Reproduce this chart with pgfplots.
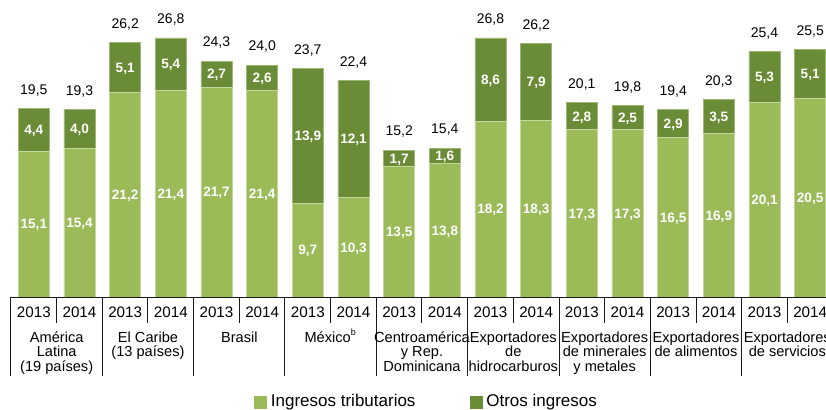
\documentclass[border=0pt]{standalone}
\usepackage{pgfplots}
\pgfplotsset{compat=1.18}
\usepackage{pgfplotstable}
\usepackage{fontspec}
\setmainfont{Liberation Sans}
\definecolor{trib}{HTML}{9BBB59}
\definecolor{otros}{HTML}{6B8C37}
\definecolor{tribedge}{HTML}{C4D79F}
\definecolor{otrosedge}{HTML}{9DB674}
\definecolor{lin}{HTML}{1A1A1A}
\pgfplotstableread{
x t o tot
0 15.1 4.4 19.5
1 15.4 4.0 19.3
2 21.2 5.1 26.2
3 21.4 5.4 26.8
4 21.7 2.7 24.3
5 21.4 2.6 24.0
6 9.7 13.9 23.7
7 10.3 12.1 22.4
8 13.5 1.7 15.2
9 13.8 1.6 15.4
10 18.2 8.6 26.8
11 18.3 7.9 26.2
12 17.3 2.8 20.1
13 17.3 2.5 19.8
14 16.5 2.9 19.4
15 16.9 3.5 20.3
16 20.1 5.3 25.4
17 20.5 5.1 25.5
}\datatab
\newcommand{\yrfont}{\fontsize{7.6pt}{8pt}\selectfont}
\newcommand{\gfont}{\fontsize{7.3pt}{8pt}\selectfont}
\newcommand{\gline}[3]{\node[anchor=base, inner sep=0pt, font=\gfont, yshift=#2] at (axis cs:#1,0) {#3};}
\begin{document}
\begin{tikzpicture}
\pgfplotsset{base/.style={
  at={(5.5pt,56pt)}, anchor=south west,
  scale only axis, width=411pt, height=145pt,
  xmin=-0.5, xmax=17.5, ymin=0, ymax=30,
  hide axis, clip=false}}
\begin{axis}[base, ybar stacked, bar width=0.68,
  legend columns=2,
  legend style={draw=none, fill=none, at={(0.5067,-0.362)}, anchor=center,
    font=\fontsize{8.5pt}{9pt}\selectfont, inner sep=0pt,
    /tikz/every even column/.append style={column sep=25pt}},
  legend cell align=left]
\addplot[fill=trib, draw=tribedge, line width=0.4pt,
  legend image code/.code={\fill[trib] (0pt,-3pt) rectangle (6pt,3pt);}]
  table[x=x, y=t] {\datatab};
\addlegendentry{Ingresos tributarios}
\addplot[fill=otros, draw=otrosedge, line width=0.4pt,
  legend image code/.code={\fill[otros] (0pt,-3pt) rectangle (6pt,3pt);}]
  table[x=x, y=o] {\datatab};
\addlegendentry{Otros ingresos}
\end{axis}
\begin{axis}[base,
  /pgf/number format/.cd, fixed, fixed zerofill, precision=1, use comma, assume math mode=true]
\addplot[only marks, mark=none, point meta=explicit, nodes near coords,
  every node near coord/.append style={anchor=base, yshift=-2.4pt, inner sep=0pt, text=white, font=\fontsize{6.8pt}{7pt}\selectfont\bfseries}]
  table[x=x, y expr=\thisrow{t}/2, meta=t] {\datatab};
\addplot[only marks, mark=none, point meta=explicit, nodes near coords,
  every node near coord/.append style={anchor=base, yshift=-2.4pt, inner sep=0pt, text=white, font=\fontsize{6.8pt}{7pt}\selectfont\bfseries}]
  table[x=x, y expr=\thisrow{t}+\thisrow{o}/2, meta=o] {\datatab};
\addplot[only marks, mark=none, point meta=explicit, nodes near coords,
  every node near coord/.append style={anchor=base, yshift=7.2pt, inner sep=0pt, text=black, font=\fontsize{7pt}{7pt}\selectfont}]
  table[x=x, y expr=\thisrow{t}+\thisrow{o}, meta=tot] {\datatab};
\draw[lin, line width=0.5pt] (axis cs:-0.5,0) -- (axis cs:17.5,0);
\pgfplotsinvokeforeach{-0.5,1.5,3.5,5.5,7.5,9.5,11.5,13.5,15.5,17.5}{
  \draw[lin, line width=0.5pt] (axis cs:#1,0) -- ++(0pt,-39.5pt);}
\pgfplotsinvokeforeach{0.5,2.5,4.5,6.5,8.5,10.5,12.5,14.5,16.5}{
  \draw[lin, line width=0.5pt] (axis cs:#1,0) -- ++(0pt,-13pt);}
\pgfplotsinvokeforeach{0,2,4,6,8,10,12,14,16}{
  \node[anchor=base, inner sep=0pt, font=\yrfont, yshift=-10pt] at (axis cs:#1,0) {2013};}
\pgfplotsinvokeforeach{1,3,5,7,9,11,13,15,17}{
  \node[anchor=base, inner sep=0pt, font=\yrfont, yshift=-10pt] at (axis cs:#1,0) {2014};}
\gline{0.5}{-22.5pt}{América}
\gline{0.5}{-29.75pt}{Latina}
\gline{0.5}{-37pt}{(19 países)}
\gline{2.5}{-22.5pt}{El Caribe}
\gline{2.5}{-29.75pt}{(13 países)}
\gline{4.5}{-22.5pt}{Brasil}
\gline{6.5}{-22.5pt}{México\textsuperscript{\fontsize{4.5pt}{5pt}\selectfont b}}
\gline{8.5}{-22.5pt}{Centroamérica}
\gline{8.5}{-29.75pt}{y Rep.}
\gline{8.5}{-37pt}{Dominicana}
\gline{10.5}{-22.5pt}{Exportadores}
\gline{10.5}{-29.75pt}{de}
\gline{10.5}{-37pt}{hidrocarburos}
\gline{12.5}{-22.5pt}{Exportadores}
\gline{12.5}{-29.75pt}{de minerales}
\gline{12.5}{-37pt}{y metales}
\gline{14.5}{-22.5pt}{Exportadores}
\gline{14.5}{-29.75pt}{de alimentos}
\gline{16.5}{-22.5pt}{Exportadores}
\gline{16.5}{-29.75pt}{de servicios}
\end{axis}
\pgfresetboundingbox
\path[use as bounding box] (0,0) rectangle (413pt,204.5pt);
\end{tikzpicture}
\end{document}
